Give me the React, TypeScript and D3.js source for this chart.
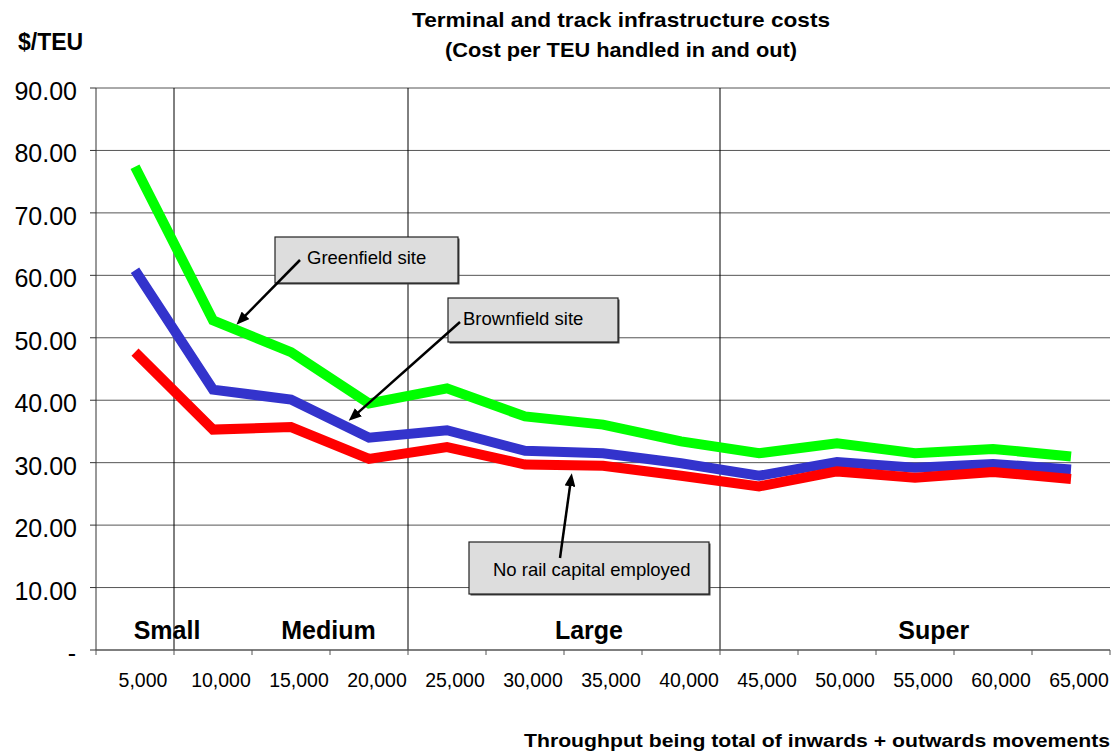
import * as d3 from "d3";

const categories = [
  "5,000", "10,000", "15,000", "20,000", "25,000", "30,000", "35,000",
  "40,000", "45,000", "50,000", "55,000", "60,000", "65,000",
];
const throughput = [5000, 10000, 15000, 20000, 25000, 30000, 35000, 40000, 45000, 50000, 55000, 60000, 65000];

const greenfield = [77.4, 52.8, 47.7, 39.5, 41.9, 37.4, 36.1, 33.4, 31.5, 33.1, 31.5, 32.2, 31.0];
const brownfield = [60.8, 41.7, 40.1, 34.0, 35.2, 31.9, 31.5, 29.9, 27.9, 30.1, 29.2, 29.8, 28.9];
const noRail = [47.7, 35.3, 35.7, 30.6, 32.5, 29.7, 29.5, 27.9, 26.2, 28.6, 27.6, 28.5, 27.4];

const yTicks = [0, 10, 20, 30, 40, 50, 60, 70, 80, 90];

// size classes: divider sits at the left edge of these categories
const sizeDividers = ["10,000", "25,000", "45,000"];
const sizeNames = ["Small", "Medium", "Large", "Super"];
const sizeNameAt = [7050, 17400, 34100, 56200];

const seriesNames = ["Greenfield site", "Brownfield site", "No rail capital employed"];
// where each callout arrow points (throughput, $/TEU)
const arrowTipT = [11500, 18700, 33000];
const arrowTipV = [52.1, 36.7, 28.3];

const FONT = "'Liberation Sans', Arial, Helvetica, sans-serif";
const W = 1116;
const H = 751;
const margin = { top: 88, right: 6, bottom: 101, left: 96 };

export default function App() {
  const x = d3
    .scaleBand<string>()
    .domain(categories)
    .range([margin.left, W - margin.right])
    .paddingInner(0)
    .paddingOuter(0);
  const bw = x.bandwidth();
  const cx = (c: string) => (x(c) || 0) + bw / 2;

  const y = d3.scaleLinear().domain([0, 90]).range([H - margin.bottom, margin.top]);

  // throughput -> pixel, aligned on category centres
  const xt = d3
    .scaleLinear()
    .domain([throughput[0], throughput[throughput.length - 1]])
    .range([cx(categories[0]), cx(categories[categories.length - 1])]);

  const line = d3
    .line<number>()
    .x((_, i) => cx(categories[i]))
    .y((d) => y(d));

  const series = [
    { name: "Greenfield site", values: greenfield, color: "#00ff00" },
    { name: "Brownfield site", values: brownfield, color: "#3333cc" },
    { name: "No rail capital employed", values: noRail, color: "#ff0000" },
  ];

  const callouts = [
    { box: { x: 275, y: 237, w: 183, h: 46 }, text: { x: 307, y: 264 }, from: [300, 260] },
    { box: { x: 448, y: 298, w: 170, h: 44 }, text: { x: 463, y: 325 }, from: [460, 322] },
    { box: { x: 469, y: 542, w: 240, h: 52 }, text: { x: 493, y: 576 }, from: [560, 558] },
  ];

  const x0 = margin.left;
  const x1 = W - margin.right;
  const yBottom = y(0);
  const yTop = y(90);

  return (
    <svg
      width={W}
      height={H}
      style={{ position: "absolute", left: 0, top: 0, background: "#fff" }}
      fontFamily={FONT}
    >
      <defs>
        <marker
          id="arrowHead"
          viewBox="0 0 12 10"
          refX="12"
          refY="5"
          markerWidth="13"
          markerHeight="11"
          markerUnits="userSpaceOnUse"
          orient="auto"
        >
          <path d="M0,0 L12,5 L0,10 z" fill="#000" />
        </marker>
      </defs>

      {/* title */}
      <text x={621} y={27} textAnchor="middle" fontWeight="bold" fontSize={21} textLength={418} lengthAdjust="spacingAndGlyphs">
        Terminal and track infrastructure costs
      </text>
      <text x={621} y={57} textAnchor="middle" fontWeight="bold" fontSize={21} textLength={352} lengthAdjust="spacingAndGlyphs">
        (Cost per TEU handled in and out)
      </text>
      <text x={18} y={50} fontWeight="bold" fontSize={23}>
        $/TEU
      </text>

      {/* horizontal grid */}
      {yTicks
        .filter((t) => t > 0)
        .map((t) => (
          <line key={t} x1={x0} x2={x1} y1={y(t)} y2={y(t)} stroke="#555" strokeWidth={1} />
        ))}

      {/* size class dividers */}
      {sizeDividers.map((c) => (
        <line key={c} x1={x(c)} x2={x(c)} y1={yTop} y2={yBottom} stroke="#000" strokeWidth={1} />
      ))}

      {/* y axis */}
      <line x1={x0} x2={x0} y1={yTop} y2={yBottom} stroke="#333" strokeWidth={1} />
      {yTicks.map((t) => (
        <g key={t}>
          <line x1={x0 - 6} x2={x0} y1={y(t)} y2={y(t)} stroke="#333" />
          <text x={t === 0 ? 76 : 77} y={y(t) + 12} textAnchor="end" fontSize={25}>
            {t === 0 ? "-" : t.toFixed(2)}
          </text>
        </g>
      ))}

      {/* x axis */}
      <line x1={x0} x2={x1} y1={yBottom} y2={yBottom} stroke="#555" strokeWidth={1.5} />
      {categories.map((c) => (
        <line key={"t" + c} x1={x(c)} x2={x(c)} y1={yBottom} y2={yBottom + 5} stroke="#555" />
      ))}
      <line x1={x1} x2={x1} y1={yBottom} y2={yBottom + 5} stroke="#555" />
      {categories.map((c) => (
        <text key={"l" + c} x={cx(c) + 8} y={687} textAnchor="middle" fontSize={19.5}>
          {c}
        </text>
      ))}
      <text x={1110} y={747} textAnchor="end" fontWeight="bold" fontSize={18} textLength={586} lengthAdjust="spacingAndGlyphs">
        Throughput being total of inwards + outwards movements
      </text>

      {/* size class labels */}
      {sizeNames.map((n, i) => (
        <text key={n} x={xt(sizeNameAt[i])} y={639} textAnchor="middle" fontWeight="bold" fontSize={25}>
          {n}
        </text>
      ))}

      {/* series */}
      {series.map((s) => (
        <path
          key={s.name}
          d={line(s.values) || ""}
          fill="none"
          stroke={s.color}
          strokeWidth={10}
          strokeLinejoin="miter"
          strokeLinecap="butt"
        />
      ))}

      {/* callouts */}
      {callouts.map((c, i) => {
        const tx = xt(arrowTipT[i]);
        const ty = y(arrowTipV[i]);
        const [fx, fy] = c.from;
        const len = Math.hypot(tx - fx, ty - fy);
        const ex = tx - ((tx - fx) / len) * 6;
        const ey = ty - ((ty - fy) / len) * 6;
        return (
          <g key={seriesNames[i]}>
            <rect x={c.box.x + 1.5} y={c.box.y + 1.5} width={c.box.w} height={c.box.h} fill="#444" />
            <rect x={c.box.x} y={c.box.y} width={c.box.w} height={c.box.h} fill="#dddddd" stroke="#222" strokeWidth={1.2} />
            <text x={c.text.x} y={c.text.y} fontSize={18.5}>
              {seriesNames[i]}
            </text>
            <line x1={fx} y1={fy} x2={ex} y2={ey} stroke="#000" strokeWidth={2.5} />
            <path
              d={`M${fx},${fy}L${tx},${ty}`}
              stroke="none"
              fill="none"
              markerEnd="url(#arrowHead)"
            />
          </g>
        );
      })}
    </svg>
  );
}
